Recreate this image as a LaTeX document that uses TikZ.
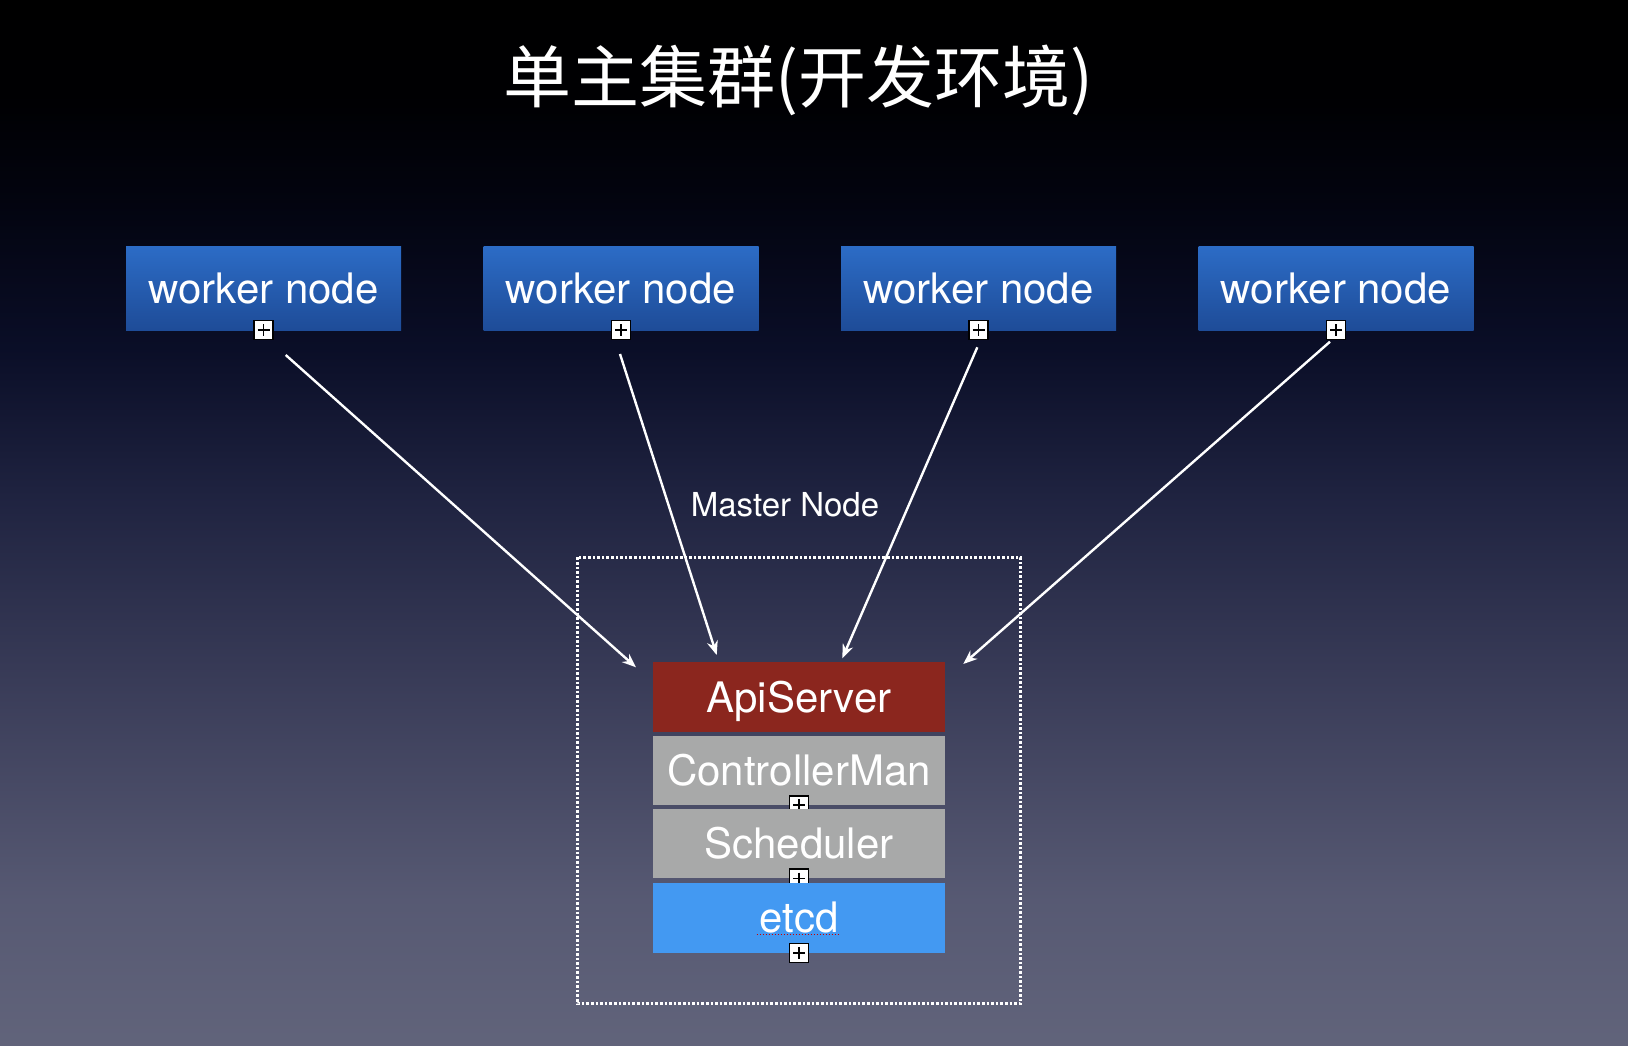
\documentclass[tikz,border=0pt]{standalone}
\usepackage{fontspec}
\setmainfont{TeX Gyre Heros}
\newfontfamily\cjk{Noto Sans CJK SC}
\usetikzlibrary{positioning,arrows.meta}
\definecolor{wtop}{RGB}{44,108,198}
\definecolor{wbot}{RGB}{30,76,152}
\definecolor{apired}{RGB}{139,38,30}
\definecolor{ctlgray}{RGB}{168,169,169}
\definecolor{etcdblue}{RGB}{67,153,242}
\pgfdeclareverticalshading{bgshade}{100bp}{rgb(0bp)=(0.38,0.39,0.48); rgb(25bp)=(0.38,0.39,0.48);
  rgb(32bp)=(0.34,0.35,0.45); rgb(41.5bp)=(0.235,0.245,0.355); rgb(51bp)=(0.125,0.14,0.255);
  rgb(58.3bp)=(0.04,0.055,0.155); rgb(65.4bp)=(0.01,0.015,0.06); rgb(70.2bp)=(0,0,0.01);
  rgb(75bp)=(0,0,0); rgb(100bp)=(0,0,0)}

\begin{document}
\begin{tikzpicture}[x=1pt,y=-1pt,
    worker/.style={top color=wtop,bottom color=wbot,minimum width=275pt,minimum height=84pt,
      inner sep=0pt,text=white,text height=30pt,text depth=0pt,font=\fontsize{42}{50}\selectfont},
    layer/.style={minimum width=292pt,minimum height=69.5pt,inner sep=0pt,text=white,
      text height=30pt,text depth=0pt,font=\fontsize{42}{50}\selectfont},
    plusbox/.style={draw=black,fill=white,line width=1.5pt,minimum size=19pt,inner sep=0pt,
      path picture={\draw[black,line width=1.8pt]
        ([yshift=-3.5pt]path picture bounding box.north) -- ([yshift=3.5pt]path picture bounding box.south)
        ([xshift=3.5pt]path picture bounding box.west) -- ([xshift=-3.5pt]path picture bounding box.east);}},
    link/.style={draw=white,line width=2.4pt,-{Stealth[length=14pt,width=11pt]}}]
        \shade[shading=bgshade] (0,0) rectangle (1628,1046);
        \useasboundingbox (0,0) rectangle (1628,1046);
        \node[text=white,font=\cjk\fontsize{68}{80}\selectfont] (T) at (798.5,80) {单主集群(开发环境)};
        \node[worker] (W1) at (263.5,288) {worker node};
        \node[worker,right=82.1pt of W1] (W2) {worker node};
        \node[worker,right=82.1pt of W2] (W3) {worker node};
        \node[worker,right=82.1pt of W3] (W4) {worker node};
        \foreach \i in {1,...,4} \node[plusbox] (P\i) at (W\i.south) {};
        % master node
        \draw[white,line width=2.6pt,dash pattern=on 2.6pt off 2pt] (577.3,557.3) rectangle (1020.7,1003.7);
        \node[text=white,font=\fontsize{33}{40}\selectfont,anchor=base] (ML) at (785,516.7) {Master Node};
        \node[layer,fill=apired] (Api) at (799,697) {ApiServer};
        \node[layer,fill=ctlgray,below=3.4pt of Api] (Ctl) {ControllerMan};
        \node[plusbox] (P5) at (Ctl.south) {};
        \node[layer,fill=ctlgray,below=3.4pt of Ctl] (Sch) {Scheduler};
        \node[plusbox] (P6) at (Sch.south) {};
        \node[layer,fill=etcdblue,below=4.3pt of Sch] (Etcd) {etcd};
        \node[plusbox] (P7) at (Etcd.south) {};
        \draw[red!80!black,line width=1pt,dash pattern=on 1.5pt off 1.5pt] (756.7,934) -- (840,934);
        % links
        \coordinate (A1) at (285.7,355);
        \coordinate (A2) at (620,354);
        \coordinate (A3) at (977.3,347.3);
        \coordinate (A4) at (1330,341.7);
        \coordinate (B1) at (636,667.3);
        \coordinate (B2) at (716.7,655);
        \coordinate (B3) at (842.3,658.3);
        \coordinate (B4) at (963.3,664);
        \foreach \i in {1,...,4} \draw[link] (A\i) -- (B\i);
    \end{tikzpicture}
\end{document}
